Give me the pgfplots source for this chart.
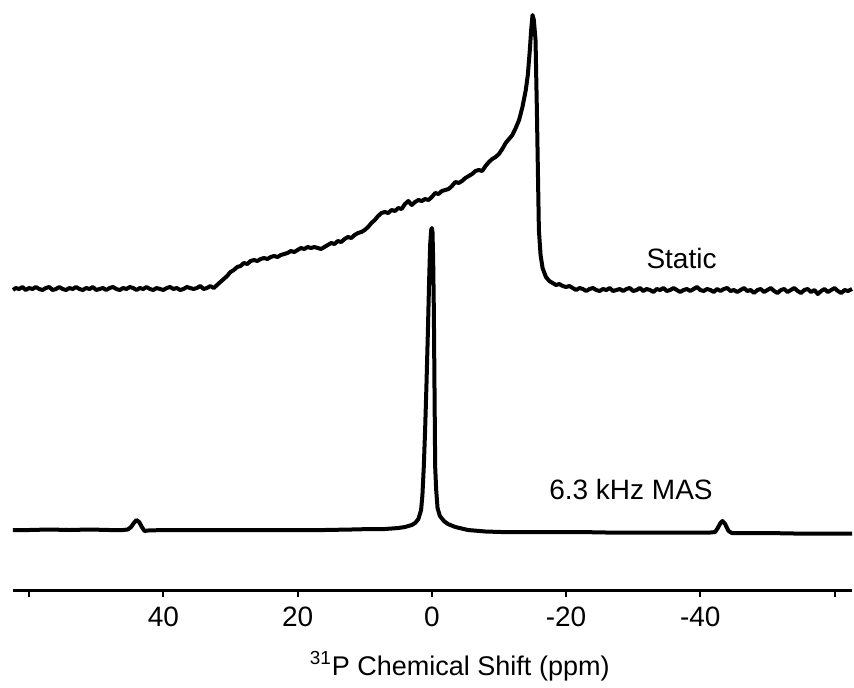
\documentclass[border=0pt]{standalone}
\usepackage{fontspec}
\setmainfont{Liberation Sans}
\usepackage{pgfplots}
\pgfplotsset{compat=1.18}

% static spectrum (ppm, intensity)
\pgfplotstableread{
x y
62.4 300
62 302
61.5 301
61 303
60.5 300
60 302
59.5 301
59 303
58.5 301
58 300
57.5 302
57 303
56.5 300
56 301
55.5 303
55 301
54.5 300
54 302
53.5 301
53 303
52.5 301
52 300
51.5 302
51 301
50.5 303
50 300
49.5 301
49 302
48.5 300
48 302
47.5 303
47 301
46.5 300
46 302
45.5 301
45 303
44.5 302
44 300
43.5 302
43 301
42.5 303
42 301
41.5 300
41 302
40.5 301
40 300
39.5 302
39 303
38.5 301
38 302
37.5 300
37 301
36.5 303
36 302
35.5 301
35 302
34.5 304
34 301
33.5 302
33 304
32.5 302
32 305
31.5 308
31 311
30.5 314
30 318
29.5 320
29 323
28.5 324
28 327
27.5 326
27 329
26.5 330
26 329
25.5 331
25 332
24.5 331
24 333
23.5 334
23 333
22.5 335
22 336
21.5 337
21 339
20.5 338
20 340
19.5 342
19 341
18.5 343
18 342
17.5 343
17 342
16.5 341
16 343
15.5 345
15 347
14.5 346
14 349
13.5 348
13 351
12.5 353
12 352
11.5 355
11 357
10.5 358
10 360
9.5 363
9 367
8.5 370
8 374
7.5 377
7 378
6.5 377
6 380
5.5 379
5 382
4.5 381
4 386
3.5 389
3 385
2.5 388
2 390
1.5 389
1 391
0.5 390
0 393
-0.5 397
-1 396
-1.5 399
-2 400
-2.5 401
-3 404
-3.5 408
-4 407
-4.5 409
-5 412
-5.5 414
-6 416
-6.5 419
-7 420
-7.5 419
-8 424
-8.5 428
-9 431
-9.5 433
-10 436
-10.5 441
-11 447
-11.5 451
-12 455
-12.5 462
-13 470
-13.5 483
-14 500
-14.3 515
-14.6 540
-14.8 560
-15.0 575
-15.2 570
-15.45 550
-15.65 480
-15.8 420
-15.95 360
-16.2 335
-16.5 322
-17 313
-17.5 309
-18 307
-18.5 305
-19 306
-19.5 304
-20 303
-20.5 304
-21 302
-21.5 300
-22 302
-22.5 301
-23 299
-23.5 301
-24 302
-24.5 300
-25 299
-25.5 301
-26 300
-26.5 302
-27 299
-27.5 300
-28 301
-28.5 299
-29 301
-29.5 302
-30 299
-30.5 300
-31 302
-31.5 299
-32 301
-32.5 300
-33 298
-33.5 301
-34 300
-34.5 302
-35 299
-35.5 300
-36 302
-36.5 300
-37 298
-37.5 300
-38 301
-38.5 299
-39 301
-39.5 303
-40 300
-40.5 299
-41 301
-41.5 300
-42 298
-42.5 301
-43 299
-43.5 301
-44 302
-44.5 299
-45 300
-45.5 298
-46 300
-46.5 302
-47 299
-47.5 300
-48 297
-48.5 300
-49 301
-49.5 298
-50 300
-50.5 302
-51 299
-51.5 297
-52 300
-52.5 301
-53 298
-53.5 300
-54 302
-54.5 299
-55 297
-55.5 300
-56 301
-56.5 298
-57 300
-57.5 296
-58 299
-58.5 301
-59 298
-59.5 300
-60 302
-60.5 299
-61 297
-61.5 300
-62 299
-62.6 301
}\staticdata

% 6.3 kHz MAS spectrum
\pgfplotstableread{
x y
62.4 60
60 60
57 60.5
54 60
51 60.5
48 60
46 60
45.3 60.5
44.8 63
44.4 67
44.0 70
43.6 68
43.2 63
42.8 59
42.3 59.5
40 60
36 60
32 60
28 60
24 60
20 60
16 60
12 60.5
9 61
7 61
5 62
4 63
3 65
2.5 67
2 71
1.6 80
1.4 95
1.2 123
1.0 160
0.8 205
0.6 255
0.4 310
0.25 345
0.1 360
0.0 362
-0.1 358
-0.2 330
-0.3 280
-0.4 200
-0.5 123
-0.65 100
-0.85 82
-1.2 74
-1.8 69
-2.4 66
-3.5 63
-5.4 60
-8 58.5
-10.3 58
-14 58
-18 58
-22 58
-26 57.5
-30 57.5
-34 57.5
-38 57.5
-41.5 57.5
-42.2 58
-42.6 62
-43.0 67
-43.3 69
-43.7 66
-44.2 59
-44.7 57
-46 57
-50 57
-54 56.5
-58 56.5
-62.6 56.5
}\masdata

\begin{document}
\fontsize{14}{17}\selectfont
\begin{tikzpicture}
\useasboundingbox (-6.5pt,-48.5pt) rectangle (420.5pt,295pt);
\begin{axis}[
  at={(0,0)}, anchor=south west,
  scale only axis, width=419.5pt, height=290pt,
  x dir=reverse, xmin=-62.6, xmax=62.4, ymin=0, ymax=580,
  axis x line=bottom, axis y line=none,
  x axis line style={-, line width=1.5pt},
  xtick={-60,-40,-20,0,20,40,60},
  xticklabels={,-40,-20,0,20,40,},
  xtick pos=bottom,
  tick align=outside, major tick length=3.5pt,
  tick style={line width=1pt, black},
  ytick=\empty,
  clip=false,
]
\addplot[black, line width=2pt, line join=round] table[x=x, y=y] {\staticdata};
\addplot[black, line width=2pt, line join=round] table[x=x, y=y] {\masdata};
\node[inner sep=0pt] at (axis cs:-37.2,332) {Static};
\node[inner sep=0pt, anchor=east] at (axis cs:-41.9,101) {6.3 kHz MAS};
\node[inner sep=0pt, anchor=base, font=\fontsize{13.5}{16}\selectfont]
  at (axis cs:-4.16,-85) {\textsuperscript{31}P Chemical Shift (ppm)};
\end{axis}
\end{tikzpicture}
\end{document}
